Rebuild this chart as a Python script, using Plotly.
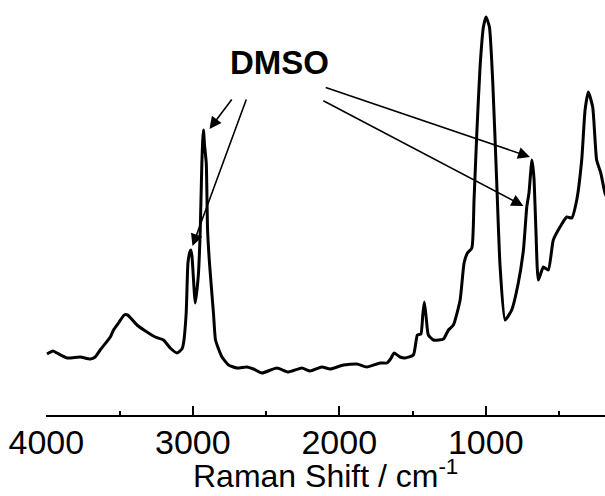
import plotly.graph_objects as go

# Raman spectrum (wavenumber in cm^-1, intensity in arbitrary units)
raman_shift = [3995, 3954, 3927, 3859, 3768, 3700, 3666, 3632, 3563, 3541, 3507, 3468, 3445,
               3381, 3313, 3256, 3200, 3154, 3108, 3074, 3063, 3045, 3033, 3020, 3013, 3005,
               2983, 2962, 2949, 2938, 2932, 2927, 2920, 2908, 2899, 2886, 2859, 2845, 2824,
               2801, 2756, 2699, 2631, 2586, 2528, 2426, 2347, 2255, 2199, 2119, 2062, 1972,
               1880, 1812, 1721, 1675, 1650, 1625, 1585, 1551, 1494, 1467, 1443, 1430, 1419,
               1405, 1392, 1357, 1289, 1255, 1221, 1175, 1148, 1125, 1095, 1080, 1061, 1039,
               1016, 998, 975, 952, 925, 902, 868, 823, 778, 743, 720, 705, 695, 686, 678,
               670, 657, 641, 607, 573, 539, 493, 447, 413, 379, 345, 322, 300, 270, 243,
               215, 186, 150]
intensity = [61, 64, 62, 57, 58, 56, 58, 65, 78, 85, 92, 100, 100,
             90, 83, 78, 75, 67, 62, 66, 72, 102, 152, 163, 165, 158,
             112, 140, 185, 252, 275, 285, 270, 252, 185, 152, 102, 75, 66,
             58, 50, 47, 48, 46, 42, 47, 43, 47, 44, 48, 46, 50,
             51, 48, 52, 52, 56, 62, 58, 57, 60, 80, 81, 100, 113,
             95, 80, 75, 76, 85, 90, 115, 152, 162, 167, 215, 282, 348,
             388, 398, 388, 332, 232, 148, 95, 105, 132, 165, 208, 222, 240, 255, 248,
             235, 182, 135, 148, 145, 175, 188, 198, 197, 215, 255, 305, 323, 308, 255,
             242, 222, 210]

# Axis ticks
major_dtick = 1000
minor_dtick = 500
x_range = [4002, 186]
y_range = [0, 415]
x_title = "Raman Shift / cm<sup>-1</sup>"

# DMSO annotation: label position and arrows (tail -> tip) in data units
label_text = "DMSO"
label_pos = (2405, 353)
arrow_tail_x = [2726, 2631, 2103, 2119]
arrow_tail_y = [317, 317, 328, 315]
arrow_tip_x = [2886, 3002, 698, 743]
arrow_tip_y = [286, 169, 258, 209]

FONT = "Liberation Sans, Arial, sans-serif"

fig = go.Figure()
fig.add_trace(go.Scatter(
    x=raman_shift, y=intensity, mode="lines",
    line=dict(color="black", width=3, shape="spline", smoothing=0.5),
    showlegend=False, hoverinfo="skip",
))

annotations = [dict(
    x=label_pos[0], y=label_pos[1], xref="x", yref="y", text="<b>%s</b>" % label_text,
    showarrow=False, font=dict(family=FONT, size=33, color="black"),
    xanchor="center", yanchor="middle",
)]
for tx, ty, hx, hy in zip(arrow_tail_x, arrow_tail_y, arrow_tip_x, arrow_tip_y):
    annotations.append(dict(
        x=hx, y=hy, ax=tx, ay=ty, xref="x", yref="y", axref="x", ayref="y",
        text="", showarrow=True, arrowhead=2, arrowsize=1.5, arrowwidth=1.6,
        arrowcolor="black", standoff=0, startstandoff=0,
    ))
annotations.append(dict(
    x=0.5, y=-81 / 415, xref="paper", yref="paper", text=x_title, showarrow=False,
    font=dict(family=FONT, size=32, color="black"), xanchor="center", yanchor="bottom",
))

fig.update_layout(
    width=605, height=496,
    margin=dict(l=46, r=0, t=0, b=81, autoexpand=False),
    paper_bgcolor="white", plot_bgcolor="white",
    annotations=annotations,
    xaxis=dict(
        range=x_range, tickmode="linear", tick0=0, dtick=major_dtick,
        ticks="inside", ticklen=9, tickwidth=1.5, tickcolor="black",
        minor=dict(tick0=0, dtick=minor_dtick, ticks="inside", ticklen=4, tickwidth=1.5,
                   tickcolor="black", showgrid=False),
        showline=True, linecolor="black", linewidth=1.5, showgrid=False, zeroline=False,
        automargin=False, ticklabelstandoff=-4,
        tickfont=dict(family=FONT, size=34, color="black"),
    ),
    yaxis=dict(range=y_range, visible=False, showgrid=False, zeroline=False, automargin=False),
)

fig.write_html(
    "out.html",
    config={"displayModeBar": False},
    post_script="document.body.style.margin='0';document.body.style.overflow='hidden';",
)
